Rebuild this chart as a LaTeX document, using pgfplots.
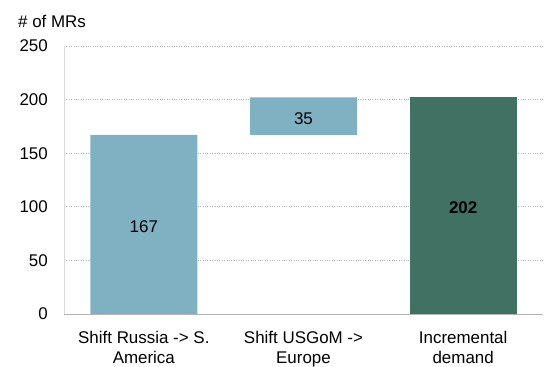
\documentclass[border=0pt]{standalone}
\usepackage{fontspec}
\setmainfont{Liberation Sans}
\usepackage{pgfplots}
\pgfplotsset{compat=1.18}
\definecolor{barblue}{HTML}{80B1C2}
\definecolor{bargreen}{HTML}{407162}
\begin{document}
\fontsize{17}{20}\selectfont
\begin{tikzpicture}
\begin{axis}[
  scale only axis,
  width=479bp, height=268bp,
  ybar stacked,
  bar width=107bp,
  ymin=0, ymax=250,
  ytick={0,50,100,150,200,250},
  xmin=-0.5, xmax=2.5,
  xtick={0,1,2},
  xticklabels={{Shift Russia -> S.\\America},{Shift USGoM ->\\Europe},{Incremental\\demand}},
  xticklabel style={align=center, inner sep=0pt, yshift=-17bp},
  yticklabel style={inner sep=0pt, xshift=-16bp},
  /pgf/number format/assume math mode=true,
  major tick length=0pt,
  axis lines*=left,
  x axis line style={draw=gray!60, line width=0.8pt, -},
  y axis line style={draw=gray!30, line width=0.8pt, -},
  ymajorgrids,
  grid style={dotted, gray!60, line width=0.7pt},
  tick label style={black},
]
% invisible base that lifts the middle bar
\addplot[draw=none, fill=none] coordinates {(0,0) (1,167) (2,0)};
% shifts of demand
\addplot[draw=none, fill=barblue] coordinates {(0,167) (1,35) (2,0)};
% total incremental demand
\addplot[draw=none, fill=bargreen] coordinates {(0,0) (1,0) (2,202)};
\coordinate (v1) at (axis cs:0,81);
\coordinate (v2) at (axis cs:1,182.5);
\coordinate (v3) at (axis cs:2,99);
\coordinate (bl) at (rel axis cs:0,0);
\coordinate (tl) at (rel axis cs:0,1);
\coordinate (tr) at (rel axis cs:1,1);
\end{axis}
% value labels
\node at (v1) {167};
\node at (v2) {35};
\node at (v3) {\bfseries 202};
\node[anchor=west, inner sep=0pt] at ([shift={(-46bp,25bp)}]tl) {\# of MRs};
\pgfresetboundingbox
\path ([shift={(-64bp,-53bp)}]bl) rectangle ([shift={(1bp,46bp)}]tr);
\end{tikzpicture}
\end{document}
